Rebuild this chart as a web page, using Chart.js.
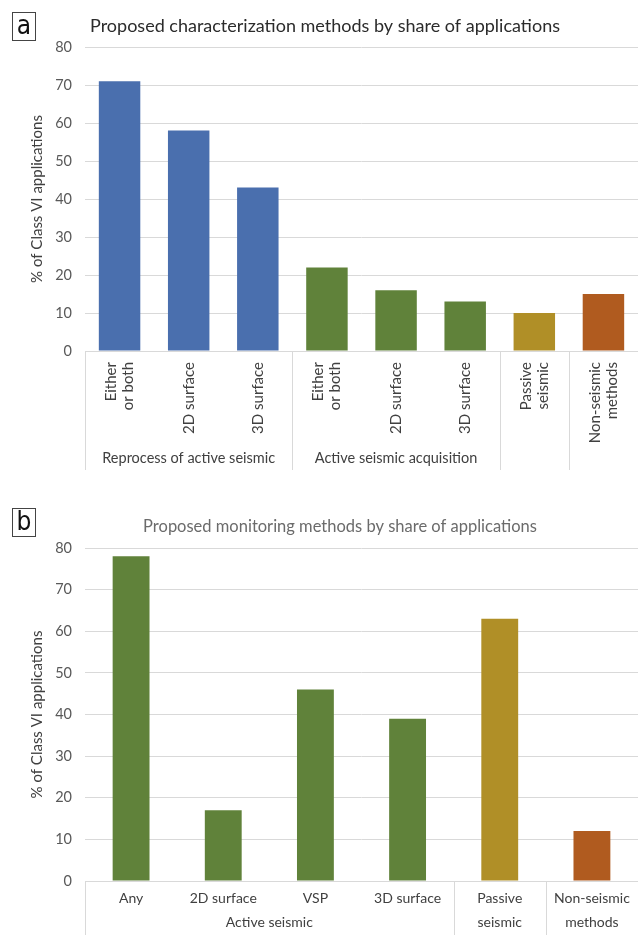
<!DOCTYPE html>
<html><head><meta charset="utf-8">
<script src="https://cdn.jsdelivr.net/npm/chart.js@4.4.0/dist/chart.umd.min.js"></script>
<style>
html,body{margin:0;padding:0;background:#fff;}
#wrapA{position:absolute;left:0;top:0;width:638px;height:470px;}
#wrapB{position:absolute;left:0;top:475px;width:638px;height:460px;}
.panel{position:absolute;left:12px;width:22px;height:27px;border:1px solid #444;background:#fff;color:#111;
  font:26px 'Liberation Sans Narrow','DejaVu Sans Condensed',sans-serif;text-align:center;line-height:25px;}
</style></head>
<body>
<div id="wrapA"><canvas id="chartA"></canvas></div>
<div id="wrapB"><canvas id="chartB"></canvas></div>
<div class="panel" style="top:12px">a</div>
<div class="panel" style="top:508px">b</div>
<script>
// ---- data: characterization (panel a)
const charCategories = [['Either','or both'],['2D surface'],['3D surface'],['Either','or both'],['2D surface'],['3D surface'],['Passive','seismic'],['Non-seismic','methods']];
const charValues = [71, 58, 43, 22, 16, 13, 10, 15];
const charGroupNames = ['Reprocess of active seismic','Active seismic acquisition','',''];
const charGroupStart = [0, 3, 6, 7];
const charGroupEnd = [2, 5, 6, 7];
// ---- data: monitoring (panel b)
const monCategories = [['Any'],['2D surface'],['VSP'],['3D surface'],['Passive','seismic'],['Non-seismic','methods']];
const monValues = [78, 17, 46, 39, 63, 12];
const monGroupNames = ['Active seismic','',''];
const monGroupStart = [0, 4, 5];
const monGroupEnd = [3, 4, 5];
// ---- axis
const yTickValues = [0, 10, 20, 30, 40, 50, 60, 70, 80];
const yTitle = '% of Class VI applications';
const titleA = 'Proposed characterization methods by share of applications';
const titleB = 'Proposed monitoring methods by share of applications';

// ---- styles
const BLUE='#4a6fae', GREEN='#60823a', GOLD='#b08f27', ORANGE='#b05b1f';
const charColors = [BLUE,BLUE,BLUE,GREEN,GREEN,GREEN,GOLD,ORANGE];
const monColors = [GREEN,GREEN,GREEN,GREEN,GOLD,ORANGE];
const FONT = "Lato, 'Open Sans', sans-serif";
const GRID = '#d9d9d9';
const TXT = '#404040';

function catLabelsPlugin(cats, names, starts, ends, rotated, title, tStyle){
  return {
    id:'catLabels',
    afterDraw(chart){
      const ctx = chart.ctx, xs = chart.scales.x, area = chart.chartArea;
      const n = cats.length;
      const step = (area.right - area.left) / n;
      ctx.save();
      // title
      ctx.fillStyle = tStyle.color;
      ctx.font = tStyle.size + 'px ' + FONT;
      ctx.textAlign = 'center'; ctx.textBaseline = 'middle';
      ctx.fillText(title, tStyle.x, tStyle.y);
      // category labels
      ctx.fillStyle = TXT;
      ctx.font = (rotated ? '15px ' : '14px ') + FONT;
      for (let i=0;i<n;i++){
        const x = xs.getPixelForValue(i);
        const lines = cats[i];
        if (rotated){
          for (let j=0;j<lines.length;j++){
            const cx = x + (j - (lines.length-1)/2) * 17;
            ctx.save();
            ctx.translate(cx, area.bottom + 11);
            ctx.rotate(-Math.PI/2);
            ctx.textAlign='right'; ctx.textBaseline='middle';
            ctx.fillText(lines[j], 0, 0);
            ctx.restore();
          }
        } else {
          ctx.textAlign='center'; ctx.textBaseline='middle';
          for (let j=0;j<lines.length;j++){
            ctx.fillText(lines[j], x, area.bottom + 17 + j*24);
          }
        }
      }
      // group labels
      ctx.font = (rotated ? '14.5px ' : '14px ') + FONT;
      ctx.textAlign='center'; ctx.textBaseline='middle';
      const gy = rotated ? area.bottom + 107 : area.bottom + 41;
      for (let g=0; g<names.length; g++){
        if (!names[g]) continue;
        const cx = (xs.getPixelForValue(starts[g]) + xs.getPixelForValue(ends[g]))/2;
        ctx.fillText(names[g], cx, gy);
      }
      // separators
      ctx.strokeStyle = GRID; ctx.lineWidth = 1;
      for (let g=0; g<starts.length; g++){
        const sx = Math.round(xs.getPixelForValue(starts[g]) - step/2) + 0.5;
        ctx.beginPath(); ctx.moveTo(sx, area.bottom); ctx.lineTo(sx, chart.height); ctx.stroke();
      }
      ctx.restore();
    }
  };
}

function makeChart(id, cats, values, colors, title, tStyle, padTop, barPct, xHeight, names, starts, ends, rotated){
  return new Chart(document.getElementById(id), {
    type:'bar',
    data:{ labels: cats.map(l=>l.join(' ')), datasets:[{ data: values, backgroundColor: colors, borderWidth:0,
      barPercentage: barPct, categoryPercentage: 1 }]},
    options:{
      responsive:true, maintainAspectRatio:false, animation:false,
      layout:{ padding:{ left:0, right:0, top:padTop, bottom:0 } },
      plugins:{ legend:{ display:false }, tooltip:{ enabled:false }, title:{ display:false } },
      scales:{
        x:{
          grid:{ display:false },
          border:{ display:true, color:GRID },
          ticks:{ display:false },
          afterFit(s){ s.height = xHeight; }
        },
        y:{
          min:0, max:80,
          afterBuildTicks(s){ s.ticks = yTickValues.map(v=>({value:v})); },
          grid:{ color:GRID, drawTicks:false },
          border:{ display:false },
          ticks:{ color:'#595959', font:{ family:FONT, size:14.5 }, padding:13 },
          title:{ display:true, text:yTitle, color:TXT, font:{ family:FONT, size:15 }, padding:{ top:28, bottom:0 } },
          afterFit(s){ s.width = 85; }
        }
      }
    },
    plugins:[catLabelsPlugin(cats, names, starts, ends, rotated, title, tStyle)]
  });
}

makeChart('chartA', charCategories, charValues, charColors, titleA, {x:325, y:26, size:18, color:'#2b2b2b'}, 47, 0.6, 119,
  charGroupNames, charGroupStart, charGroupEnd, true);
makeChart('chartB', monCategories, monValues, monColors, titleB, {x:340, y:52, size:16.5, color:'#6b6b6b'}, 73, 0.4, 54,
  monGroupNames, monGroupStart, monGroupEnd, false);
</script>
</body></html>
